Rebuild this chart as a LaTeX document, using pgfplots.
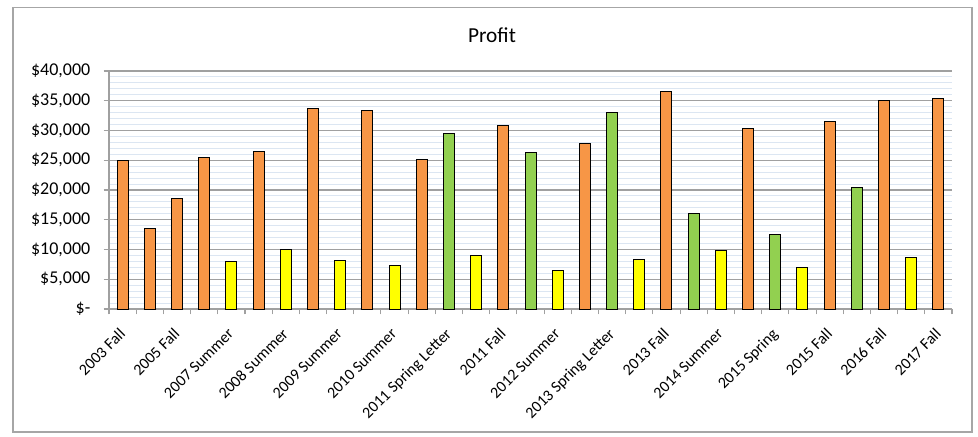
\documentclass[border=0pt]{standalone}
\usepackage{fontspec}
\setmainfont{Carlito}
\usepackage{pgfplots}
\usepackage{pgfplotstable}
\pgfplotsset{compat=1.18}
\definecolor{barorange}{HTML}{F79646}
\definecolor{baryellow}{HTML}{FFFF00}
\definecolor{bargreen}{HTML}{92D050}
\definecolor{gridblue}{HTML}{DCE6F2}
\definecolor{gridgray}{HTML}{A0A0A0}

% profit per session, index = position on the x axis
\pgfplotstableread{
x profit
0 25000
1 13500
2 18500
3 25500
5 26400
7 33700
9 33400
11 25200
14 30900
17 27800
20 36600
23 30400
26 31500
28 35000
30 35300
}\orangedata
\pgfplotstableread{
x profit
4 8000
6 10000
8 8200
10 7300
13 9000
16 6400
19 8400
22 9900
25 6900
29 8600
}\yellowdata
\pgfplotstableread{
x profit
12 29500
15 26300
18 33100
21 16100
24 12600
27 20500
}\greendata

\begin{document}
\begin{tikzpicture}
  \useasboundingbox (-81.75pt,-95.25pt) rectangle (651.75pt,231.75pt);
  \draw[black!35, line width=1.1pt] (-72pt,-92.25pt) rectangle (647.25pt,226pt);
  \begin{axis}[
      at={(0,0)}, anchor=south west,
      scale only axis,
      width=632.25pt, height=178.5pt,
      ybar, bar width=8.25pt, bar shift=0pt,
      xmin=-0.5, xmax=30.5,
      ymin=0, ymax=40000,
      scaled y ticks=false,
      axis lines*=left,
      axis line style={gridgray, line width=0.8pt},
      xtick={0,2,...,30},
      xticklabels={2003 Fall, 2005 Fall, 2007 Summer, 2008 Summer, 2009 Summer,
                   2010 Summer, 2011 Spring Letter, 2011 Fall, 2012 Summer,
                   2013 Spring Letter, 2013 Fall, 2014 Summer, 2015 Spring,
                   2015 Fall, 2016 Fall, 2017 Fall},
      x tick style={draw=none},
      minor xtick={-0.5,0.5,...,30.5},
      minor x tick style={draw=gridgray, line width=0.8pt},
      minor tick length=4pt,
      tick align=outside,
      xticklabel style={rotate=45, anchor=north east, font=\fontsize{12}{14}\selectfont,
                        inner sep=1pt, xshift=-8.1pt, yshift=-3.5pt},
      ytick={0,5000,...,40000},
      yticklabels={\$-\hspace{0.55em}, \$5{,}000, \$10{,}000, \$15{,}000, \$20{,}000,
                   \$25{,}000, \$30{,}000, \$35{,}000, \$40{,}000},
      y tick style={draw=gridgray, line width=0.8pt},
      major tick length=4pt,
      minor ytick={1000,2000,...,39000},
      minor y tick style={draw=none},
      yticklabel style={font=\fontsize{13.5}{15}\selectfont, xshift=-6.5pt},
      ymajorgrids, yminorgrids,
      major grid style={gridgray, line width=0.9pt},
      minor grid style={gridblue, line width=0.8pt},
      clip=false,
    ]
    \addplot[fill=barorange, draw=black, line width=0.75pt] table[x=x, y=profit] {\orangedata};
    \addplot[fill=baryellow, draw=black, line width=0.75pt] table[x=x, y=profit] {\yellowdata};
    \addplot[fill=bargreen, draw=black, line width=0.75pt] table[x=x, y=profit] {\greendata};
  \end{axis}
  \node[font=\fontsize{16}{18}\selectfont] at (287.25pt,205.5pt) {Profit};
\end{tikzpicture}
\end{document}
